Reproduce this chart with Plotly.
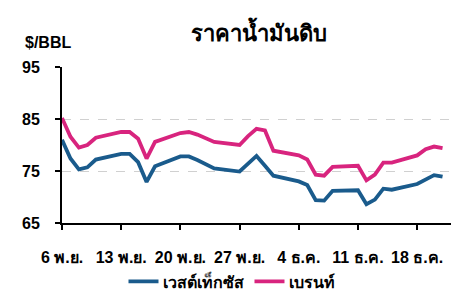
import plotly.graph_objects as go

dates = ["2023-11-06","2023-11-07","2023-11-08","2023-11-09","2023-11-10",
         "2023-11-13","2023-11-14","2023-11-15","2023-11-16","2023-11-17",
         "2023-11-20","2023-11-21","2023-11-22","2023-11-24",
         "2023-11-27","2023-11-28","2023-11-29","2023-11-30","2023-12-01",
         "2023-12-04","2023-12-05","2023-12-06","2023-12-07","2023-12-08",
         "2023-12-11","2023-12-12","2023-12-13","2023-12-14","2023-12-15",
         "2023-12-18","2023-12-19","2023-12-20","2023-12-21"]
wti = [81.0, 77.4, 75.3, 75.7, 77.2,
       78.3, 78.3, 76.7, 72.9, 75.9,
       77.8, 77.8, 77.1, 75.5,
       74.9, 76.4, 77.9, 76.0, 74.1,
       73.0, 72.3, 69.4, 69.3, 71.2,
       71.3, 68.6, 69.5, 71.6, 71.4,
       72.5, 73.4, 74.2, 73.9]
brent = [85.2, 81.6, 79.5, 80.0, 81.4,
         82.5, 82.5, 81.2, 77.4, 80.6,
         82.3, 82.5, 82.0, 80.6,
         80.0, 81.7, 83.1, 82.8, 78.9,
         78.0, 77.2, 74.3, 74.1, 75.8,
         76.0, 73.2, 74.3, 76.6, 76.6,
         78.0, 79.2, 79.7, 79.4]
tick_vals = ["2023-11-06","2023-11-13","2023-11-20","2023-11-27","2023-12-04","2023-12-11","2023-12-18"]
tick_text = ["6 พ.ย.","13 พ.ย.","20 พ.ย.","27 พ.ย.","4 ธ.ค.","11 ธ.ค.","18 ธ.ค."]
y_ticks = [65, 75, 85, 95]

FONT = "Liberation Sans, Arial, sans-serif"
BLUE = "#1a5b8c"
PINK = "#d8247e"

fig = go.Figure()
fig.add_trace(go.Scatter(x=dates, y=wti, mode="lines", name="เวสต์เท็กซัส",
                         line=dict(color=BLUE, width=3.8)))
fig.add_trace(go.Scatter(x=dates, y=brent, mode="lines", name="เบรนท์",
                         line=dict(color=PINK, width=3.8)))

fig.update_layout(
    width=475, height=293,
    margin=dict(l=62, r=24, t=67, b=70, autoexpand=False),
    paper_bgcolor="white", plot_bgcolor="white",
    font=dict(family=FONT, color="black"),
    title=dict(text="ราคาน้ำมันดิบ", x=0.545, xanchor="center",
               y=0.888, yanchor="middle",
               font=dict(size=22, color="black", weight="bold")),
    showlegend=True,
    legend=dict(orientation="h", x=0.437, xanchor="center", y=-0.375, yanchor="middle",
                font=dict(size=16, color="black", weight="bold"),
                itemwidth=30, tracegroupgap=0, entrywidth=0),
    xaxis=dict(type="date", range=["2023-11-06", "2023-12-22"],
               tickvals=tick_vals, ticktext=tick_text, tickangle=0,
               showline=True, linecolor="black", linewidth=2,
               ticks="outside", ticklen=5, tickwidth=1.5, tickcolor="black",
               showgrid=False, zeroline=False, ticklabelstandoff=14,
               tickfont=dict(size=16, color="black", weight="bold")),
    yaxis=dict(range=[65, 95], tickvals=y_ticks,
               showline=True, linecolor="black", linewidth=2,
               ticks="outside", ticklen=5, tickwidth=1.5, tickcolor="black",
               showgrid=True, gridcolor="#d0d0d0", griddash="dash", gridwidth=1,
               zeroline=False, ticklabelstandoff=12,
               tickfont=dict(size=16, color="black", weight="bold")),
)
fig.add_annotation(text="$/BBL", xref="paper", yref="paper", x=-0.1, y=1.155,
                   xanchor="left", yanchor="middle", showarrow=False,
                   font=dict(size=16, color="black", weight="bold"))

fig.write_html("out.html")
